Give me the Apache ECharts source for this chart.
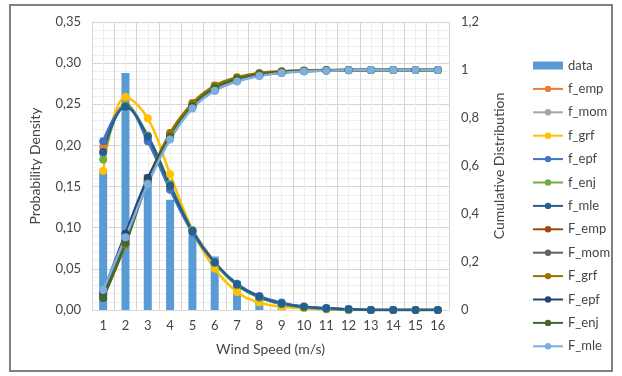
<!DOCTYPE html>
<html>
<head>
    <meta charset="utf-8">
    <title>Wind Speed Distribution</title>
    <script src="https://cdn.jsdelivr.net/npm/echarts@6/dist/echarts.min.js"></script>
    <style>
        body { margin: 0; background: #fff; }
        #chart1 { width: 622px; height: 376px; }
    </style>
</head>
<body>
<div id="chart1"></div>
<script type="text/javascript">
    // wind speed classes (m/s)
    var speeds = ['1','2','3','4','5','6','7','8','9','10','11','12','13','14','15','16'];
    // observed histogram
    var data = [0.168,0.288,0.165,0.134,0.090,0.065,0.035,0.016,0.005,0.002,0.001,0,0,0,0,0];
    // probability density fits
    var f_emp = [0.198,0.250,0.208,0.150,0.097,0.058,0.031,0.016,0.008,0.004,0.002,0.001,0,0,0,0];
    var f_mom = [0.190,0.249,0.210,0.151,0.097,0.058,0.031,0.016,0.008,0.004,0.002,0.001,0,0,0,0];
    var f_grf = [0.169,0.259,0.233,0.165,0.097,0.050,0.022,0.009,0.004,0.002,0.001,0,0,0,0,0];
    var f_epf = [0.205,0.248,0.205,0.146,0.094,0.057,0.032,0.017,0.009,0.004,0.002,0.001,0,0,0,0];
    var f_enj = [0.183,0.249,0.212,0.153,0.097,0.057,0.030,0.015,0.007,0.003,0.001,0,0,0,0,0];
    var f_mle = [0.192,0.247,0.211,0.151,0.096,0.058,0.031,0.016,0.008,0.004,0.002,0.001,0,0,0,0];
    // cumulative distribution fits
    var F_emp = [0.060,0.290,0.540,0.730,0.855,0.930,0.965,0.984,0.993,0.997,0.999,1,1,1,1,1];
    var F_mom = [0.070,0.300,0.535,0.720,0.850,0.925,0.960,0.980,0.990,0.996,0.998,1,1,1,1,1];
    var F_grf = [0.050,0.273,0.540,0.738,0.862,0.935,0.970,0.988,0.995,0.998,1,1,1,1,1,1];
    var F_epf = [0.075,0.318,0.550,0.720,0.845,0.915,0.955,0.977,0.989,0.995,0.998,0.999,1,1,1,1];
    var F_enj = [0.050,0.280,0.530,0.720,0.850,0.925,0.962,0.982,0.992,0.996,0.998,1,1,1,1,1];
    var F_mle = [0.083,0.303,0.525,0.710,0.840,0.914,0.952,0.975,0.988,0.994,0.997,0.999,1,1,1,1];

    var lineDefs = [
        ['f_emp', f_emp, '#ED7D31', 0],
        ['f_mom', f_mom, '#A5A5A5', 0],
        ['f_grf', f_grf, '#FFC000', 0],
        ['f_epf', f_epf, '#4472C4', 0],
        ['f_enj', f_enj, '#70AD47', 0],
        ['f_mle', f_mle, '#255E91', 0],
        ['F_emp', F_emp, '#9E480E', 1],
        ['F_mom', F_mom, '#636363', 1],
        ['F_grf', F_grf, '#997300', 1],
        ['F_epf', F_epf, '#264478', 1],
        ['F_enj', F_enj, '#43682B', 1],
        ['F_mle', F_mle, '#7CAFDD', 1]
    ];

    var txt = '#454545';
    var font = 'Lato, "Open Sans", sans-serif';

    var series = [{
        name: 'data',
        type: 'bar',
        xAxisIndex: 0,
        yAxisIndex: 0,
        barWidth: 8,
        itemStyle: { color: '#5B9BD5' },
        data: data
    }];
    var legendData = [{ name: 'data', icon: 'rect' }];
    lineDefs.forEach(function (d) {
        series.push({
            name: d[0],
            type: 'line',
            xAxisIndex: 0,
            yAxisIndex: d[3],
            smooth: 0.4,
            symbol: 'circle',
            symbolSize: 8,
            lineStyle: { width: 2.5, color: d[2] },
            itemStyle: { color: d[2] },
            data: d[1]
        });
        legendData.push({ name: d[0] });
    });

    var myChart1 = echarts.init(document.getElementById('chart1'));
    myChart1.setOption({
        animation: false,
        textStyle: { fontFamily: font },
        graphic: {
            elements: [{
                type: 'rect',
                z: 100,
                silent: true,
                shape: { x: 10, y: 5, width: 602, height: 366 },
                style: { fill: null, stroke: '#808080', lineWidth: 2 }
            }]
        },
        grid: { left: 92, top: 22, width: 357, height: 288 },
        legend: {
            orient: 'vertical',
            left: 527,
            top: 54,
            padding: 5,
            itemWidth: 30,
            itemHeight: 8,
            itemGap: 10.4,
            textStyle: { color: txt, fontSize: 13, fontFamily: font },
            data: legendData
        },
        xAxis: [{
            type: 'category',
            data: speeds,
            z: 1,
            name: 'Wind Speed (m/s)',
            nameLocation: 'middle',
            nameGap: 32,
            nameTextStyle: { color: txt, fontSize: 14 },
            axisLine: { show: true, lineStyle: { color: '#d9d9d9' } },
            axisTick: { show: false },
            axisLabel: { color: txt, fontSize: 13, margin: 9 },
            splitLine: { show: true, lineStyle: { color: '#d4d4d4' } }
        }, {
            // half-category minor grid
            type: 'value',
            min: 0.5,
            max: 16.5,
            interval: 0.5,
            z: 0,
            position: 'bottom',
            axisLine: { show: false },
            axisTick: { show: false },
            axisLabel: { show: false },
            splitLine: { show: true, lineStyle: { color: '#eeeeee' } }
        }],
        yAxis: [{
            type: 'value',
            min: 0,
            max: 0.35,
            interval: 0.05,
            name: 'Probability Density',
            nameLocation: 'middle',
            nameGap: 50,
            nameTextStyle: { color: txt, fontSize: 14 },
            axisLine: { show: false },
            axisTick: { show: false },
            axisLabel: {
                color: txt, fontSize: 13, margin: 11,
                formatter: function (v) { return v.toFixed(2).replace('.', ','); }
            },
            splitLine: { show: true, lineStyle: { color: '#d4d4d4' } },
            minorTick: { show: false, splitNumber: 5 },
            minorSplitLine: { show: true, lineStyle: { color: '#eeeeee' } }
        }, {
            type: 'value',
            min: 0,
            max: 1.2,
            interval: 0.2,
            name: 'Cumulative Distribution',
            nameLocation: 'middle',
            nameGap: 43,
            nameTextStyle: { color: txt, fontSize: 14 },
            axisLine: { show: false },
            axisTick: { show: false },
            axisLabel: {
                color: txt, fontSize: 13, margin: 12,
                formatter: function (v) { return String(Math.round(v * 10) / 10).replace('.', ','); }
            },
            splitLine: { show: false }
        }],
        series: series
    });
</script>
</body>
</html>
